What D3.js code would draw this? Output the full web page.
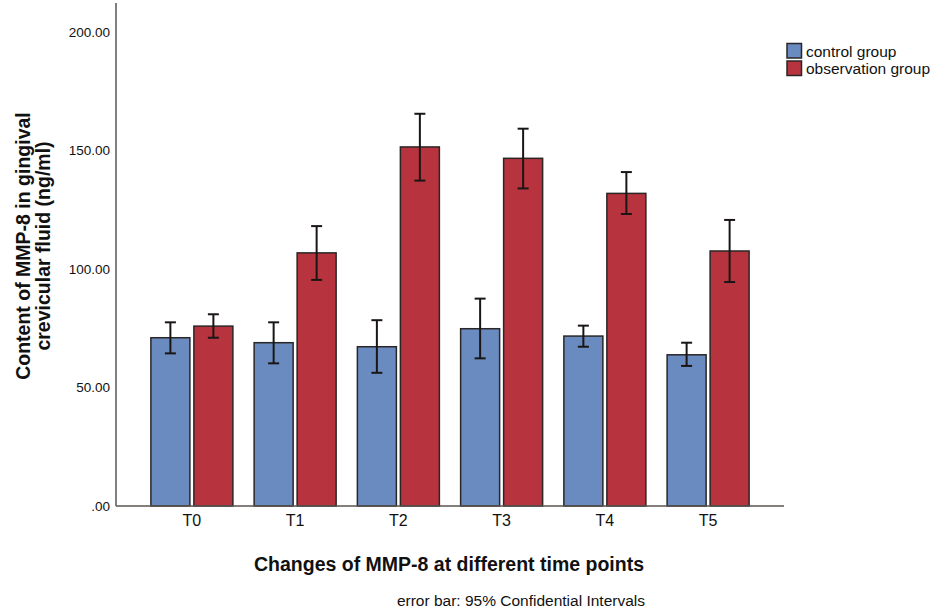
<!DOCTYPE html>
<meta charset="utf-8">
<script src="https://d3js.org/d3.v7.min.js"></script>
<style>
  body { margin: 0; background: #fff; }
  text { font-family: "Liberation Sans", Arial, sans-serif; }
</style>
<svg width="935" height="615"></svg>
<script>

// data
const timePoints = ['T0', 'T1', 'T2', 'T3', 'T4', 'T5'];
const groups = ['control group', 'observation group'];
const controlMean = [71.0, 68.9, 67.2, 74.8, 71.7, 63.8];
const controlLow  = [64.4, 60.2, 56.2, 62.3, 67.2, 59.1];
const controlHigh = [77.5, 77.5, 78.4, 87.5, 76.1, 68.9];
const obsMean = [75.9, 106.8, 151.5, 146.7, 131.9, 107.6];
const obsLow  = [71.0, 95.4, 137.3, 134.0, 123.2, 94.5];
const obsHigh = [80.9, 118.1, 165.5, 159.2, 140.9, 120.7];
const yTicks = [0, 50, 100, 150, 200];

const colors = ['#6a8bbf', '#b7333e'];

var svg = d3.select('svg');

var x0 = 116, x1 = 784, yBase = 506, yTop = 32;

var x = d3.scaleBand()
    .domain(timePoints)
    .range([x0, x1])
    .paddingInner(0)
    .paddingOuter(0.235);

var y = d3.scaleLinear()
    .domain([0, 200])
    .range([yBase, yTop]);

var barW = 39, gap = 4;

var rows = [];
timePoints.forEach(function(t, i) {
  rows.push({t: t, g: 0, mean: controlMean[i], lo: controlLow[i], hi: controlHigh[i]});
  rows.push({t: t, g: 1, mean: obsMean[i], lo: obsLow[i], hi: obsHigh[i]});
});

function barX(d) {
  var c = x(d.t) + x.bandwidth() / 2;
  return d.g === 0 ? c - gap / 2 - barW : c + gap / 2;
}

// bars
svg.append('g')
  .selectAll('rect')
  .data(rows)
  .enter()
  .append('rect')
    .attr('x', barX)
    .attr('y', function(d) { return y(d.mean); })
    .attr('width', barW)
    .attr('height', function(d) { return y(0) - y(d.mean); })
    .style('fill', function(d) { return colors[d.g]; })
    .style('stroke', '#2a2626')
    .style('stroke-width', 1.5);

// error bars
var eb = svg.append('g')
  .selectAll('g')
  .data(rows)
  .enter()
  .append('g')
    .attr('transform', function(d) { return 'translate(' + (barX(d) + barW / 2) + ',0)'; })
    .style('stroke', '#1a1616')
    .style('stroke-width', 2);

eb.append('line')
  .attr('y1', function(d) { return y(d.lo); })
  .attr('y2', function(d) { return y(d.hi); });
eb.append('line')
  .attr('x1', -5.5).attr('x2', 5.5)
  .attr('y1', function(d) { return y(d.lo); })
  .attr('y2', function(d) { return y(d.lo); });
eb.append('line')
  .attr('x1', -5.5).attr('x2', 5.5)
  .attr('y1', function(d) { return y(d.hi); })
  .attr('y2', function(d) { return y(d.hi); });

// axes
var yAxis = svg.append('g')
  .attr('transform', 'translate(' + x0 + ',0)')
  .call(d3.axisLeft(y).tickValues(yTicks).tickSize(0).tickPadding(6)
    .tickFormat(function(v) { return v === 0 ? '.00' : d3.format('.2f')(v); }));
yAxis.select('.domain').attr('d', 'M0,3V' + yBase).style('stroke', '#5a5452').style('stroke-width', 1.5);
yAxis.selectAll('text').style('font-size', '13.5px').style('fill', '#111');

var xAxis = svg.append('g')
  .attr('transform', 'translate(0,' + yBase + ')')
  .call(d3.axisBottom(x).tickSize(0).tickPadding(9));
xAxis.select('.domain').attr('d', 'M' + x0 + ',0H' + x1).style('stroke', '#5a5452').style('stroke-width', 1.5);
xAxis.selectAll('text').style('font-size', '16px').style('fill', '#111');

// axis titles
var yt = svg.append('text')
  .attr('transform', 'translate(30,246) rotate(-90)')
  .attr('text-anchor', 'middle')
  .style('font-size', '19.5px')
  .style('font-weight', 'bold')
  .style('fill', '#111');
yt.append('tspan').attr('x', 0).attr('dy', 0).text('Content of MMP-8 in gingival');
yt.append('tspan').attr('x', 0).attr('dy', 20).text('crevicular fluid (ng/ml)');

svg.append('text')
  .attr('x', 449).attr('y', 571)
  .attr('text-anchor', 'middle')
  .style('font-size', '19.5px')
  .style('font-weight', 'bold')
  .style('fill', '#111')
  .text('Changes of MMP-8 at different time points');

svg.append('text')
  .attr('x', 645).attr('y', 606)
  .attr('text-anchor', 'end')
  .style('font-size', '15.5px')
  .style('fill', '#111')
  .text('error bar: 95% Confidential Intervals');

// legend
var lg = svg.append('g')
  .selectAll('g')
  .data(groups)
  .enter()
  .append('g')
    .attr('transform', function(d, i) { return 'translate(787,' + (43.5 + i * 17.5) + ')'; });
lg.append('rect')
  .attr('width', 14.5).attr('height', 14.5)
  .style('fill', function(d, i) { return colors[i]; })
  .style('stroke', '#2a2626')
  .style('stroke-width', 1.5);
lg.append('text')
  .attr('x', 19).attr('y', 13)
  .style('font-size', '15.5px')
  .style('fill', '#111')
  .text(function(d) { return d; });

</script>
